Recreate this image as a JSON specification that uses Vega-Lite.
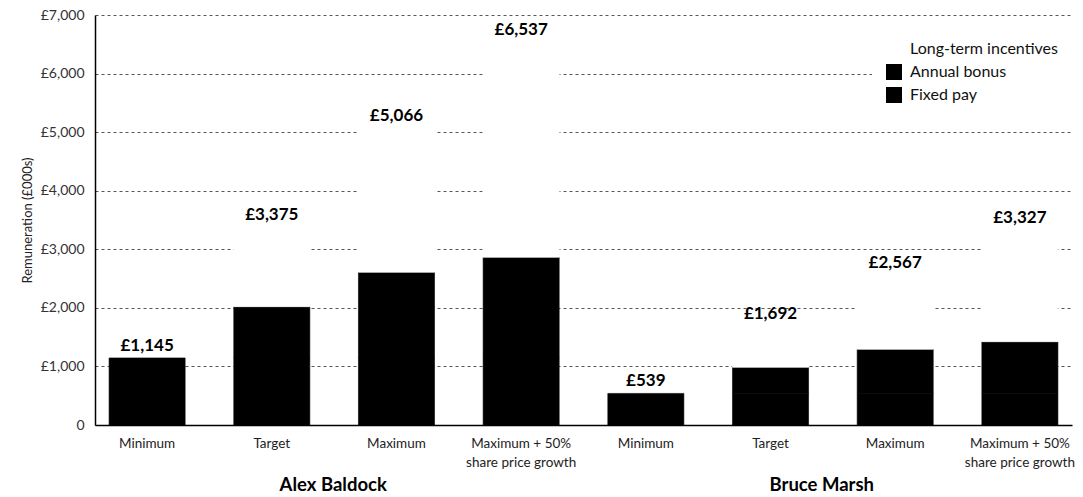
{
  "$schema": "https://vega.github.io/schema/vega-lite/v6.json",
  "width": 977,
  "height": 410,
  "autosize": "none",
  "padding": {"left": 95, "top": 15, "right": 11, "bottom": 72},
  "background": "white",
  "config": {
    "font": "Lato",
    "view": {"stroke": null},
    "locale": {
      "number": {"decimal": ".", "thousands": ",", "grouping": [3], "currency": ["£", ""]}
    }
  },
  "data": {
    "values": [
      {"person": "Alex Baldock", "slot": "Alex Baldock|Minimum", "component": "Fixed pay", "rank": 1, "value": 1145},
      {"person": "Alex Baldock", "slot": "Alex Baldock|Target", "component": "Fixed pay", "rank": 1, "value": 1145},
      {"person": "Alex Baldock", "slot": "Alex Baldock|Target", "component": "Annual bonus", "rank": 2, "value": 875},
      {"person": "Alex Baldock", "slot": "Alex Baldock|Target", "component": "Long-term incentives", "rank": 3, "value": 1355},
      {"person": "Alex Baldock", "slot": "Alex Baldock|Maximum", "component": "Fixed pay", "rank": 1, "value": 1145},
      {"person": "Alex Baldock", "slot": "Alex Baldock|Maximum", "component": "Annual bonus", "rank": 2, "value": 1462},
      {"person": "Alex Baldock", "slot": "Alex Baldock|Maximum", "component": "Long-term incentives", "rank": 3, "value": 2459},
      {"person": "Alex Baldock", "slot": "Alex Baldock|Maximum + 50%|share price growth", "component": "Fixed pay", "rank": 1, "value": 1145},
      {"person": "Alex Baldock", "slot": "Alex Baldock|Maximum + 50%|share price growth", "component": "Annual bonus", "rank": 2, "value": 1718},
      {"person": "Alex Baldock", "slot": "Alex Baldock|Maximum + 50%|share price growth", "component": "Long-term incentives", "rank": 3, "value": 3674},
      {"person": "Bruce Marsh", "slot": "Bruce Marsh|Minimum", "component": "Fixed pay", "rank": 1, "value": 539},
      {"person": "Bruce Marsh", "slot": "Bruce Marsh|Target", "component": "Fixed pay", "rank": 1, "value": 539},
      {"person": "Bruce Marsh", "slot": "Bruce Marsh|Target", "component": "Annual bonus", "rank": 2, "value": 446},
      {"person": "Bruce Marsh", "slot": "Bruce Marsh|Target", "component": "Long-term incentives", "rank": 3, "value": 707},
      {"person": "Bruce Marsh", "slot": "Bruce Marsh|Maximum", "component": "Fixed pay", "rank": 1, "value": 539},
      {"person": "Bruce Marsh", "slot": "Bruce Marsh|Maximum", "component": "Annual bonus", "rank": 2, "value": 753},
      {"person": "Bruce Marsh", "slot": "Bruce Marsh|Maximum", "component": "Long-term incentives", "rank": 3, "value": 1275},
      {"person": "Bruce Marsh", "slot": "Bruce Marsh|Maximum + 50%|share price growth", "component": "Fixed pay", "rank": 1, "value": 539},
      {"person": "Bruce Marsh", "slot": "Bruce Marsh|Maximum + 50%|share price growth", "component": "Annual bonus", "rank": 2, "value": 883},
      {"person": "Bruce Marsh", "slot": "Bruce Marsh|Maximum + 50%|share price growth", "component": "Long-term incentives", "rank": 3, "value": 1905}
    ]
  },
  "layer": [
    {
      "encoding": {
        "x": {
          "field": "slot",
          "type": "nominal",
          "sort": null,
          "scale": {"type": "band", "paddingInner": 0.39, "paddingOuter": 0.113},
          "axis": {
            "title": null,
            "ticks": false,
            "domainColor": "#000000",
            "domainWidth": 1.5,
            "labelAngle": 0,
            "labelFont": "Lato",
            "labelFontSize": 13.5,
            "labelColor": "#222222",
            "labelPadding": 11,
            "labelBaseline": "top",
            "labelLineHeight": 19,
            "labelExpr": "slice(split(datum.label, '|'), 1)"
          }
        }
      },
      "layer": [
        {
          "mark": {"type": "bar", "strokeWidth": 0.6},
          "encoding": {
            "y": {
              "field": "value",
              "type": "quantitative",
              "stack": "zero",
              "scale": {"domain": [0, 7000], "nice": false},
              "axis": {
                "title": "Remuneration (£000s)",
                "titleFont": "Lato",
                "titleFontSize": 13,
                "titleFontWeight": "normal",
                "titleColor": "#222222",
                "titlePadding": 6,
                "values": [0, 1000, 2000, 3000, 4000, 5000, 6000, 7000],
                "format": "$,.0f",
                "labelExpr": "datum.value === 0 ? '0' : datum.label",
                "labelFont": "Lato",
                "labelFontSize": 14,
                "labelColor": "#333333",
                "labelPadding": 11,
                "ticks": false,
                "domainColor": "#000000",
                "domainWidth": 1.5,
                "grid": true,
                "gridColor": "#444444",
                "gridDash": [3, 3],
                "gridWidth": 0.9
              }
            },
            "color": {
              "field": "component",
              "type": "nominal",
              "scale": {
                "domain": ["Long-term incentives", "Annual bonus", "Fixed pay"],
                "range": ["#ffffff", "#000000", "#000000"]
              },
              "legend": {
                "title": null,
                "orient": "none",
                "legendX": 777,
                "legendY": 12,
                "padding": 14,
                "fillColor": "#ffffff",
                "symbolType": "square",
                "symbolSize": 256,
                "symbolStrokeWidth": 0,
                "labelFont": "Lato",
                "labelFontSize": 16,
                "labelColor": "#111111",
                "labelOffset": 8,
                "rowPadding": 7
              }
            },
            "stroke": {
              "field": "component",
              "type": "nominal",
              "scale": {
                "domain": ["Long-term incentives", "Annual bonus", "Fixed pay"],
                "range": ["#ffffff", "#000000", "#000000"]
              },
              "legend": null
            },
            "order": {"field": "rank", "type": "quantitative"}
          }
        },
        {
          "transform": [
            {"aggregate": [{"op": "sum", "field": "value", "as": "total"}], "groupby": ["slot"]}
          ],
          "mark": {
            "type": "text",
            "baseline": "alphabetic",
            "dy": -7,
            "font": "Lato",
            "fontSize": 17,
            "fontWeight": "bold",
            "color": "#000000"
          },
          "encoding": {
            "y": {"field": "total", "type": "quantitative"},
            "text": {"field": "total", "type": "quantitative", "format": "$,.0f"}
          }
        }
      ]
    },
    {
      "mark": {"type": "text", "text": ""},
      "encoding": {
        "x": {
          "field": "person",
          "type": "nominal",
          "scale": {"type": "band", "paddingInner": 0, "paddingOuter": 0},
          "axis": {
            "orient": "bottom",
            "title": null,
            "domain": false,
            "ticks": false,
            "grid": false,
            "labelAngle": 0,
            "labelFont": "Lato",
            "labelFontSize": 18.5,
            "labelFontWeight": "bold",
            "labelColor": "#000000",
            "labelPadding": 50,
            "labelBaseline": "top",
            "labelOffset": -6
          }
        }
      }
    }
  ],
  "resolve": {"scale": {"x": "independent"}}
}
